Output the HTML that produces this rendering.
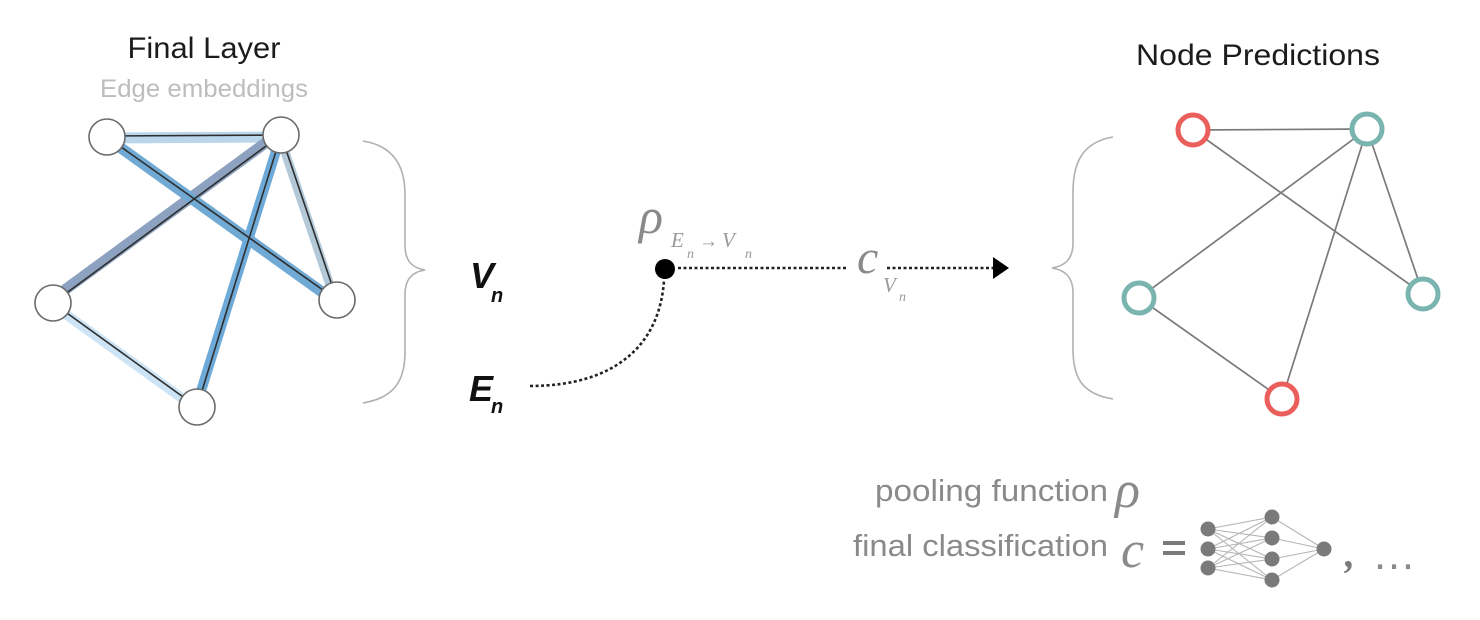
<!DOCTYPE html>
<html>
<head>
<meta charset="utf-8">
<style>
  html, body { margin: 0; padding: 0; background: #ffffff; }
  body { width: 1480px; height: 620px; overflow: hidden; }
  svg { display: block; }
  .sans { font-family: "Liberation Sans", "DejaVu Sans", sans-serif; }
  .serif { font-family: "Liberation Serif", "DejaVu Serif", serif; font-style: italic; }
</style>
</head>
<body>
<svg width="1480" height="620" viewBox="0 0 1480 620" xmlns="http://www.w3.org/2000/svg">
  <!-- Titles -->
  <text class="sans" x="204" y="58" text-anchor="middle" font-size="30" fill="#1c1c1c" textLength="153" lengthAdjust="spacingAndGlyphs">Final Layer</text>
  <text class="sans" x="204" y="97" text-anchor="middle" font-size="25" fill="#bdbdbd" textLength="208" lengthAdjust="spacingAndGlyphs">Edge embeddings</text>
  <text class="sans" x="1258" y="65" text-anchor="middle" font-size="30" fill="#1c1c1c" textLength="244" lengthAdjust="spacingAndGlyphs">Node Predictions</text>

  <!-- Left graph: edge embedding bands -->
  <g stroke-linecap="butt">
    <line x1="107" y1="138" x2="281" y2="137" stroke="#b9d6ea" stroke-width="11"/>
    <line x1="53" y1="305" x2="197" y2="409" stroke="#cce4f5" stroke-width="10"/>
    <line x1="279" y1="134" x2="335" y2="300" stroke="#b4c9d8" stroke-width="9"/>
    <line x1="279" y1="133" x2="51" y2="300" stroke="#8ca2c0" stroke-width="11"/>
    <line x1="107" y1="138" x2="336" y2="302" stroke="#6fa9d4" stroke-width="11"/>
    <line x1="281" y1="135" x2="196" y2="407" stroke="#6eaad8" stroke-width="10"/>
  </g>
  <!-- Left graph: black edges -->
  <g stroke="#2e2e2e" stroke-width="1.6">
    <line x1="107" y1="136" x2="281" y2="135"/>
    <line x1="53" y1="303" x2="197" y2="407"/>
    <line x1="281" y1="135" x2="337" y2="300"/>
    <line x1="281" y1="135" x2="53" y2="303"/>
    <line x1="107" y1="137" x2="337" y2="300"/>
    <line x1="281" y1="135" x2="197" y2="407"/>
  </g>
  <!-- Left graph: nodes -->
  <g fill="#ffffff" stroke="#6a6a6a" stroke-width="1.6">
    <circle cx="107" cy="137" r="18"/>
    <circle cx="281" cy="135" r="18"/>
    <circle cx="53" cy="303" r="18"/>
    <circle cx="337" cy="300" r="18"/>
    <circle cx="197" cy="407" r="18"/>
  </g>

  <!-- Left brace -->
  <path d="M363,141 C393,146 405,165 405,195 L405,245 C405,262 413,268 425,270 C413,272 405,278 405,295 L405,352 C405,382 393,398 363,403"
        fill="none" stroke="#b0b0b0" stroke-width="1.6"/>

  <!-- V_n and E_n -->
  <text class="sans" x="470" y="288" font-size="36" font-weight="bold" font-style="italic" fill="#111">V</text>
  <text class="sans" x="491" y="302" font-size="20" font-weight="bold" font-style="italic" fill="#111">n</text>
  <text class="sans" x="469" y="401" font-size="36" font-weight="bold" font-style="italic" fill="#111">E</text>
  <text class="sans" x="491" y="413" font-size="20" font-weight="bold" font-style="italic" fill="#111">n</text>

  <!-- Dotted curve E_n -> dot -->
  <path d="M530,386 C615,386 660,345 664,280" fill="none" stroke="#222" stroke-width="2.6" stroke-dasharray="3 2.5"/>
  <!-- Dot -->
  <circle cx="665" cy="269" r="10" fill="#000"/>

  <!-- rho label -->
  <text class="serif" x="639" y="233" font-size="50" fill="#8a8a8a">ρ</text>
  <text class="serif" x="671" y="247" font-size="21" fill="#9a9a9a">E</text>
  <text class="serif" x="687" y="258" font-size="14" fill="#9a9a9a">n</text>
  <text class="serif" x="699" y="247" font-size="19" font-style="normal" fill="#9a9a9a">→</text>
  <text class="serif" x="722" y="247" font-size="21" fill="#9a9a9a">V</text>
  <text class="serif" x="745" y="258" font-size="14" fill="#9a9a9a">n</text>

  <!-- Dotted line dot -> c -->
  <line x1="678" y1="268" x2="848" y2="268" stroke="#222" stroke-width="2.6" stroke-dasharray="3 2.5"/>
  <!-- c label -->
  <text class="serif" x="857" y="273" font-size="48" fill="#8a8a8a">c</text>
  <text class="serif" x="883" y="292" font-size="21" fill="#9a9a9a">V</text>
  <text class="serif" x="899" y="301" font-size="14" fill="#9a9a9a">n</text>
  <!-- Dotted arrow -->
  <line x1="887" y1="268" x2="995" y2="268" stroke="#222" stroke-width="2.6" stroke-dasharray="3 2.5"/>
  <polygon points="993,257 1009,268 993,279" fill="#000"/>

  <!-- Right brace -->
  <path d="M1113,137 C1083,142 1073,162 1073,192 L1073,243 C1073,260 1064,266 1052,268 C1064,270 1073,276 1073,293 L1073,349 C1073,379 1083,394 1113,399"
        fill="none" stroke="#b0b0b0" stroke-width="1.6"/>

  <!-- Right graph edges -->
  <g stroke="#7a7a7a" stroke-width="1.7">
    <line x1="1193" y1="130" x2="1367" y2="129"/>
    <line x1="1193" y1="130" x2="1423" y2="294"/>
    <line x1="1367" y1="129" x2="1139" y2="298"/>
    <line x1="1367" y1="129" x2="1282" y2="399"/>
    <line x1="1367" y1="129" x2="1423" y2="294"/>
    <line x1="1139" y1="298" x2="1282" y2="399"/>
  </g>
  <!-- Right graph nodes -->
  <g fill="#ffffff" stroke-width="5">
    <circle cx="1193" cy="130" r="15" stroke="#ea5f5b"/>
    <circle cx="1367" cy="129" r="15" stroke="#7ab4ae"/>
    <circle cx="1139" cy="298" r="15" stroke="#7ab4ae"/>
    <circle cx="1423" cy="294" r="15" stroke="#7ab4ae"/>
    <circle cx="1282" cy="399" r="15" stroke="#ea5f5b"/>
  </g>

  <!-- Legend -->
  <text class="sans" x="875" y="501" font-size="31" fill="#8a8a8a" textLength="233" lengthAdjust="spacingAndGlyphs">pooling function</text>
  <text class="serif" x="1115" y="507" font-size="52" fill="#8a8a8a">ρ</text>
  <text class="sans" x="853" y="556" font-size="31" fill="#8a8a8a" textLength="255" lengthAdjust="spacingAndGlyphs">final classification</text>
  <text class="serif" x="1121" y="567" font-size="52" fill="#8a8a8a">c</text>
  <rect x="1163" y="541" width="22" height="4" fill="#7a7a7a"/>
  <rect x="1163" y="551" width="22" height="4" fill="#7a7a7a"/>

  <!-- Small neural net -->
  <g stroke="#b5b5b5" stroke-width="1.1">
    <line x1="1208" y1="529" x2="1272" y2="517"/>
    <line x1="1208" y1="529" x2="1272" y2="538"/>
    <line x1="1208" y1="529" x2="1272" y2="559"/>
    <line x1="1208" y1="529" x2="1272" y2="580"/>
    <line x1="1208" y1="549" x2="1272" y2="517"/>
    <line x1="1208" y1="549" x2="1272" y2="538"/>
    <line x1="1208" y1="549" x2="1272" y2="559"/>
    <line x1="1208" y1="549" x2="1272" y2="580"/>
    <line x1="1208" y1="568" x2="1272" y2="517"/>
    <line x1="1208" y1="568" x2="1272" y2="538"/>
    <line x1="1208" y1="568" x2="1272" y2="559"/>
    <line x1="1208" y1="568" x2="1272" y2="580"/>
    <line x1="1272" y1="517" x2="1324" y2="549"/>
    <line x1="1272" y1="538" x2="1324" y2="549"/>
    <line x1="1272" y1="559" x2="1324" y2="549"/>
    <line x1="1272" y1="580" x2="1324" y2="549"/>
  </g>
  <g fill="#7a7a7a">
    <circle cx="1208" cy="529" r="7.5"/>
    <circle cx="1208" cy="549" r="7.5"/>
    <circle cx="1208" cy="568" r="7.5"/>
    <circle cx="1272" cy="517" r="7.5"/>
    <circle cx="1272" cy="538" r="7.5"/>
    <circle cx="1272" cy="559" r="7.5"/>
    <circle cx="1272" cy="580" r="7.5"/>
    <circle cx="1324" cy="549" r="7.5"/>
  </g>
  <text class="serif" x="1345" y="567" font-size="40" font-weight="bold" fill="#7a7a7a">,</text>
  <text class="sans" x="1372" y="569" font-size="44" fill="#8a8a8a">…</text>
</svg>
</body>
</html>
